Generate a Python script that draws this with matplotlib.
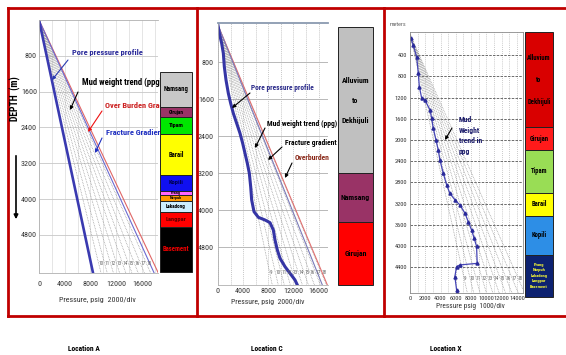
import matplotlib
matplotlib.use('Agg')
import matplotlib.pyplot as plt
import numpy as np
from matplotlib.lines import Line2D
from matplotlib.patches import FancyArrowPatch

plt.rcParams['font.family'] = ['Liberation Sans Narrow', 'Roboto Condensed', 'Roboto', 'DejaVu Sans']
plt.rcParams['font.stretch'] = 'condensed'

W, H = 566, 355
PSI_PER_PPG_M = 0.052 * 3.281   # psi per (ppg * metre)

# ---------------- data ----------------
# Location A
a_depth = [0, 5650]
a_pore = [0, 8400]
a_frac = [0, 17900]
a_overburden = [0, 18550]
a_mud_ppg = [10, 11, 12, 13, 14, 15, 16, 17, 18]
a_xticks = [0, 4000, 8000, 12000, 16000]
a_yticks = [800, 1600, 2400, 3200, 4000, 4800]
a_form_names = ['Namsang', 'Girujan', 'Tipam', 'Barail', 'Kopili', 'Prang',
                'Narpuh', 'Lakadong', 'Langpar', 'Basement']
a_form_tops = [1160, 1940, 2170, 2550, 3460, 3820, 3910, 4040, 4290, 4620]
a_form_base = 5630
a_form_colors = ['#c8c8c8', '#993366', '#00e600', '#ffff00', '#1010f0', '#ff66ff',
                 '#ff9900', '#cceeff', '#ff0000', '#000000']
a_form_tcolors = ['#000000', '#000000', '#000000', '#000000', '#000050', '#000000',
                  '#000000', '#000000', '#600000', '#ee0000']

# Location C
c_depth = [0, 5620]
c_pore_depth = [0, 173, 390, 606, 895, 1183, 1471, 1688, 1904, 2121, 2337, 2553,
                2770, 2986, 3202, 3491, 3780, 4033, 4155, 4213, 4271, 4430, 4646,
                4862, 5042, 5223, 5367, 5512, 5620]
c_pore_psi = [0, 212, 583, 848, 1007, 1273, 1644, 2016, 2440, 2970, 3500, 3925,
              4296, 4667, 4985, 5197, 5356, 5728, 6417, 7478, 8273, 8804, 9069,
              9440, 9864, 10660, 11455, 12251, 12622]
c_frac = [0, 16600]
c_overburden = [0, 17400]
c_mud_ppg = [9, 10, 11, 12, 13, 14, 15, 16, 17, 18]
c_xticks = [0, 4000, 8000, 12000, 16000]
c_yticks = [800, 1600, 2400, 3200, 4000, 4800]
c_form_names = ['Alluvium\n\nto\n\nDekhijuli', 'Namsang', 'Girujan']
c_form_tops = [40, 3200, 4260]
c_form_base = 5620
c_form_colors = ['#c0c0c0', '#993366', '#ff0000']

# Location X
x_depth = [80, 210, 430, 740, 990, 1210, 1245, 1430, 1590, 1780, 2000, 2190, 2380,
           2630, 2850, 3010, 3130, 3230, 3380, 3540, 3700, 3855, 4010, 4330, 4360,
           4390, 4580, 4830, 4890]
x_psi = [90, 430, 870, 1090, 1220, 1530, 1950, 2610, 2840, 3050, 3400, 3700, 3920,
         4360, 4800, 5230, 5880, 6540, 7190, 7620, 8060, 8400, 8720, 8800, 6540,
         6100, 5880, 6100, 6150]
x_mud_ppg = [9, 10, 11, 12, 13, 14, 15, 16, 17, 18]
x_xticks = [0, 2000, 4000, 6000, 8000, 10000, 12000, 14000]
x_yticks = [400, 800, 1200, 1600, 2000, 2400, 2800, 3200, 3600, 4000, 4400]
x_form_names = ['Alluvium\n\nto\n\nDekhijuli', 'Girujan', 'Tipam', 'Barail', 'Kopili',
                'Prang\nNarpuh\nLakadong\nLangpar\nBasement']
x_form_tops = [-40, 1755, 2190, 3000, 3435, 4170]
x_form_base = 4966
x_form_colors = ['#d90000', '#ff1a1a', '#99dd55', '#ffff00', '#2d8ee6', '#0d2270']
x_form_tcolors = ['#000000', '#000000', '#000000', '#000000', '#000000', '#ffff33']

# ---------------- figure ----------------
fig = plt.figure(figsize=(W / 100, H / 100), dpi=100)
fig.patch.set_facecolor('white')


def rect(l, t, r, b):
    return [l / W, 1 - b / H, (r - l) / W, (b - t) / H]


def fp(x, y):
    return (x / W, 1 - y / H)


def panel(l, t, r, b, xlim, ylim, xticks, yticks, fs, xpad, ypad):
    ax = fig.add_axes(rect(l, t, r, b))
    ax.set_xlim(*xlim)
    ax.set_ylim(*ylim)
    ax.set_xticks(xticks)
    ax.set_yticks(yticks)
    ax.set_xticklabels([str(v) for v in xticks])
    ax.set_yticklabels([str(v) for v in yticks])
    ax.tick_params(length=0, labelsize=fs, colors='#333333')
    ax.tick_params(axis='x', pad=xpad)
    ax.tick_params(axis='y', pad=ypad)
    return ax


def column(l, t, r, b, ylim, tops, base, colors, names, tcolors, sizes, spacing):
    ax = fig.add_axes(rect(l, t, r, b), zorder=5)
    ax.set_xlim(0, 1)
    ax.set_ylim(*ylim)
    ax.axis('off')
    bottoms = tops[1:] + [base]
    for top, bot, c, n, tc, fs in zip(tops, bottoms, colors, names, tcolors, sizes):
        ax.bar(0.5, bot - top, bottom=top, width=1, color=c, edgecolor='#222222',
               lw=0.7, clip_on=False)
        ax.text(0.5, (top + bot) / 2, n, ha='center', va='center', fontsize=fs,
                fontweight='bold', color=tc, linespacing=spacing)
    return ax


def fan(ax, ppgs, depth_end, label_depth, color='#8a8a8a'):
    for ppg in ppgs:
        ax.plot([0, ppg * PSI_PER_PPG_M * depth_end], [0, depth_end],
                ls=(0, (1, 1.3)), color=color, lw=0.5, zorder=1)
        ax.text(ppg * PSI_PER_PPG_M * label_depth, label_depth, str(ppg),
                fontsize=3.8, color='#666666', ha='left', va='center')


def arrow(ax, tail_px, tip_data, color):
    ax.annotate('', xy=tip_data, xycoords='data', xytext=fp(*tail_px),
                textcoords='figure fraction',
                arrowprops=dict(arrowstyle='-|>', color=color, lw=0.8,
                                mutation_scale=5, shrinkA=0, shrinkB=0))


# ---------- Location A ----------
axA = panel(39, 20, 158, 273, (0, 18500), (5650, 0), a_xticks, a_yticks, 5.8, 6, 1.5)
for v in range(0, 18501, 2000):
    axA.axvline(v, color='#dadada', lw=0.5, zorder=0)
for d in a_yticks:
    axA.axhline(d, color='#c8c8c8', lw=0.6, zorder=0)
axA.spines['right'].set_visible(False)
for s in ['left', 'bottom', 'top']:
    axA.spines[s].set_color('#b0b0b0')
    axA.spines[s].set_linewidth(0.6)
fan(axA, a_mud_ppg, a_depth[-1], 5444)
axA.plot(a_overburden, a_depth, color='#e06666', lw=0.8)
axA.plot(a_frac, a_depth, color='#6a6ad0', lw=0.8)
axA.plot(a_pore, a_depth, color='#3a3ab0', lw=1.9)

fig.text(*fp(72, 53), 'Pore pressure profile', fontsize=6.0, fontweight='bold',
         color='#2a2a9a', va='center')
fig.text(*fp(82, 82), 'Mud weight trend (ppg)', fontsize=6.2, fontweight='bold',
         color='black', va='center')
fig.text(*fp(105, 105), 'Over Burden Gradient', fontsize=6.0, fontweight='bold',
         color='#cc2020', va='center')
fig.text(*fp(106, 133), 'Fracture Gradient', fontsize=6.0, fontweight='bold',
         color='#2030c0', va='center')
arrow(axA, (68, 60), (2020, 1340), '#2a3ab0')
arrow(axA, (78, 92), (4820, 2010), 'black')
arrow(axA, (102, 111), (7620, 2500), '#ee1111')
arrow(axA, (102, 138), (8710, 2970), '#2030c0')

fig.text(*fp(97, 300), 'Pressure, psig  2000/div', fontsize=5.8, color='#333333',
         ha='center', va='center')
fig.text(*fp(15, 99), 'DEPTH  (m)', rotation=90, fontsize=7.0, fontweight='bold',
         ha='center', va='center')
fig.add_artist(FancyArrowPatch(fp(16, 153), fp(16, 222), transform=fig.transFigure,
                               arrowstyle='-|>', mutation_scale=6, lw=1.2, color='black'))

column(160, 20, 192, 273, (5650, 0), a_form_tops, a_form_base, a_form_colors,
       a_form_names, a_form_tcolors, [4.8, 3.8, 4.3, 4.8, 4.6, 3.0, 3.0, 3.8, 4.6, 4.8], 1.0)

# ---------- Location C ----------
axC = panel(218, 23, 328, 285, (0, 17500), (5620, -50), c_xticks, c_yticks, 5.8, 2, 3)
for v in range(0, 17501, 2000):
    axC.axvline(v, color='#b4b4b4', lw=0.5, ls=(0, (1.5, 1.5)), zorder=0)
for d in c_yticks:
    axC.axhline(d, color='#b8b8b8', lw=0.7, zorder=0)
axC.spines['right'].set_visible(False)
axC.spines['top'].set_color('#8a9ab0')
axC.spines['top'].set_linewidth(1.3)
for s in ['left', 'bottom']:
    axC.spines[s].set_color('#b0b0b0')
    axC.spines[s].set_linewidth(0.6)
fan(axC, c_mud_ppg, c_depth[-1], 5360)
axC.plot(c_overburden, c_depth, color='#e07070', lw=0.8)
axC.plot(c_frac, c_depth, color='#7a7ab8', lw=0.8)
axC.plot(c_pore_psi, c_pore_depth, color='#3535a5', lw=2.2)

fig.text(*fp(251, 88), 'Pore pressure profile', fontsize=5.3, fontweight='bold',
         color='#2a2a8a', va='center')
fig.text(*fp(267, 124), 'Mud weight trend (ppg)', fontsize=5.4, fontweight='bold',
         color='black', va='center')
fig.text(*fp(285, 143), 'Fracture gradient', fontsize=5.4, fontweight='bold',
         color='black', va='center')
fig.text(*fp(295, 158), 'Overburden', fontsize=5.4, fontweight='bold',
         color='#8b2a1a', va='center')
arrow(axC, (250, 93), (2230, 1790), 'black')
arrow(axC, (265, 128), (5890, 2655), 'black')
arrow(axC, (282, 147), (7955, 2915), 'black')
arrow(axC, (292, 163), (10660, 3304), 'black')

fig.text(*fp(268, 302), 'Pressure, psig  2000/div', fontsize=5.6, color='#333333',
         ha='center', va='center')

column(338, 23, 373, 285, (5620, -50), c_form_tops, c_form_base, c_form_colors,
       c_form_names, ['black'] * 3, [5.6] * 3, 1.5)

# ---------- Location X ----------
axX = panel(410, 32, 523, 293, (0, 14800), (4890, -40), x_xticks, x_yticks, 4.6, 2, 2)
for v in range(0, 14801, 1000):
    axX.axvline(v, color='#9a9a9a', lw=0.5, ls=(0, (1, 2)), zorder=0)
for d in x_yticks:
    axX.axhline(d, color='#555555', lw=0.6, ls=(0, (3, 1.5)), zorder=0)
for s in ['left', 'top', 'right', 'bottom']:
    axX.spines[s].set_color('#8a8a8a')
    axX.spines[s].set_linewidth(0.6)
fan(axX, x_mud_ppg, 4890, 4607)
axX.plot(x_psi, x_depth, color='#4545b5', lw=0.9, marker='^', ms=2.2,
         mfc='#2a2a9a', mec='#2a2a9a')

fig.text(*fp(459, 116), 'Mud\nWeight\ntrend in\nppg', fontsize=5.5, fontweight='bold',
         color='#1a1a6a', va='top', ha='left', linespacing=1.6)
arrow(axX, (452, 128), (4585, 2000), 'black')
fig.text(*fp(398, 25), 'meters', fontsize=4.4, color='#666666', ha='center', va='center')
fig.text(*fp(470, 306), 'Pressure psig  1000/div', fontsize=5.3, color='#333333',
         ha='center', va='center')

column(525, 32, 553, 297, (4966, -40), x_form_tops, x_form_base, x_form_colors,
       x_form_names, x_form_tcolors, [4.8, 4.8, 4.8, 4.8, 4.8, 3.2], 1.5)

# ---------- red frame ----------
red = '#c00000'
for (x1, y1, x2, y2) in [(8, 8, 566, 8), (8, 8, 8, 316), (8, 316, 566, 316),
                         (197, 8, 197, 316), (384, 8, 384, 316)]:
    fig.add_artist(Line2D([x1 / W, x2 / W], [1 - y1 / H, 1 - y2 / H],
                          transform=fig.transFigure, color=red, lw=2))

# ---------- location labels ----------
for x, name in [(84, 'Location A'), (267, 'Location C'), (446, 'Location X')]:
    fig.text(*fp(x, 349), name, fontsize=5.4, fontweight='bold', ha='center', va='center')

fig.savefig('out.png', dpi=100)
